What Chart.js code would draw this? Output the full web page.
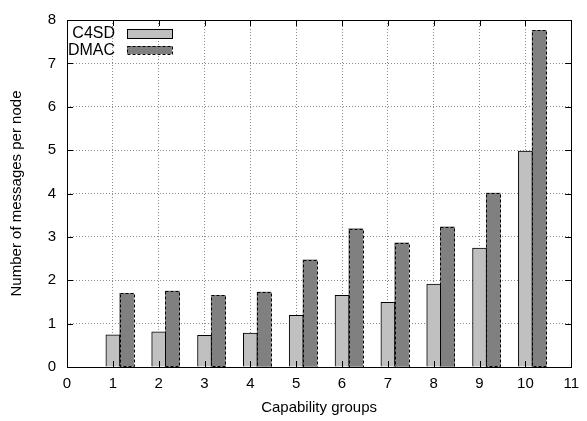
<!DOCTYPE html>
<html>
<head>
<meta charset="utf-8">
<script src="https://cdn.jsdelivr.net/npm/chart.js@4"></script>
<style>
  html, body { margin: 0; background: #fff; }
</style>
</head>
<body>
<canvas id="grafico" width="587" height="421"></canvas>
<script>
const grupos = [1, 2, 3, 4, 5, 6, 7, 8, 9, 10];
const c4sd = [0.74, 0.81, 0.73, 0.78, 1.19, 1.65, 1.49, 1.91, 2.74, 4.98];
const dmac = [1.70, 1.75, 1.65, 1.73, 2.47, 3.19, 2.86, 3.23, 4.01, 7.76];
const xTicks = [0, 1, 2, 3, 4, 5, 6, 7, 8, 9, 10, 11];
const yTicks = [0, 1, 2, 3, 4, 5, 6, 7, 8];

const fonte = '"Liberation Sans", Arial, sans-serif';
const deslocDmac = 0.3; // DMAC bar sits just right of the C4SD bar

// frame, inward ticks, dashed borders for DMAC, legend inside the plot
const moldura = {
  id: 'moldura',
  afterDatasetsDraw(chart) {
    const c = chart.ctx;
    const meta = chart.getDatasetMeta(1);
    c.save();
    c.strokeStyle = '#000';
    c.lineWidth = 1;
    c.setLineDash([3, 2]);
    meta.data.forEach(b => {
      const w = b.width;
      c.strokeRect(Math.round(b.x - w / 2) + 0.5, Math.round(b.y) + 0.5, Math.round(w), Math.round(b.base - b.y));
    });
    c.restore();
  },
  afterDraw(chart) {
    const c = chart.ctx;
    const a = chart.chartArea;
    const sx = chart.scales.x, sy = chart.scales.y;
    c.save();
    c.strokeStyle = '#000';
    c.lineWidth = 1;
    c.setLineDash([]);
    c.strokeRect(Math.round(a.left) + 0.5, Math.round(a.top) + 0.5, Math.round(a.right - a.left), Math.round(a.bottom - a.top));
    c.beginPath();
    xTicks.forEach(t => {
      const px = Math.round(sx.getPixelForValue(t)) + 0.5;
      c.moveTo(px, a.bottom); c.lineTo(px, a.bottom - 6);
      c.moveTo(px, a.top); c.lineTo(px, a.top + 6);
    });
    yTicks.forEach(t => {
      const py = Math.round(sy.getPixelForValue(t)) + 0.5;
      c.moveTo(a.left, py); c.lineTo(a.left + 6, py);
      c.moveTo(a.right, py); c.lineTo(a.right - 6, py);
    });
    c.stroke();

    // legend
    c.font = '16px ' + fonte;
    c.fillStyle = '#000';
    c.textAlign = 'right';
    c.textBaseline = 'middle';
    const tx = a.left + 48;
    const bx = a.left + 60;
    c.fillText('C4SD', tx, a.top + 14);
    c.fillText('DMAC', tx, a.top + 31);
    c.fillStyle = '#c0c0c0';
    c.fillRect(bx, a.top + 9, 45, 9);
    c.strokeRect(bx + 0.5, a.top + 9.5, 45, 9);
    c.fillStyle = '#808080';
    c.fillRect(bx, a.top + 26, 45, 8);
    c.setLineDash([3, 2]);
    c.strokeRect(bx + 0.5, a.top + 26.5, 45, 8);
    c.restore();
  }
};

const ctx = document.getElementById('grafico');

new Chart(ctx, {
  type: 'bar',
  data: {
    datasets: [{
      label: 'C4SD',
      data: grupos.map((g, i) => ({ x: g, y: c4sd[i] })),
      backgroundColor: '#c0c0c0',
      borderColor: '#000',
      borderWidth: 1
    }, {
      label: 'DMAC',
      data: grupos.map((g, i) => ({ x: g + deslocDmac, y: dmac[i] })),
      backgroundColor: '#808080',
      borderWidth: 0
    }]
  },
  options: {
    responsive: false,
    animation: false,
    grouped: false,
    barThickness: 14,
    layout: { padding: { top: 14, right: 14, left: 0, bottom: 0 } },
    plugins: {
      legend: { display: false },
      tooltip: { enabled: false }
    },
    scales: {
      x: {
        type: 'linear',
        min: 0,
        max: 11,
        offset: false,
        afterFit: s => { s.height = 54; },
        afterBuildTicks: s => { s.ticks = xTicks.map(v => ({ value: v })); },
        ticks: { color: '#000', font: { family: fonte, size: 15 }, padding: 8, maxRotation: 0 },
        grid: { offset: false, color: '#8a8a8a', lineWidth: 1, drawTicks: false },
        border: { display: false, dash: [1, 2] },
        title: { display: true, text: 'Capability groups', color: '#000', font: { family: fonte, size: 15 }, padding: { top: 0, bottom: 4 } }
      },
      y: {
        min: 0,
        max: 8,
        afterFit: s => { s.width = 67; },
        afterBuildTicks: s => { s.ticks = yTicks.map(v => ({ value: v })); },
        ticks: { color: '#000', font: { family: fonte, size: 15 }, padding: 11 },
        grid: { color: '#8a8a8a', lineWidth: 1, drawTicks: false },
        border: { display: false, dash: [1, 2] },
        title: { display: true, text: 'Number of messages per node', color: '#000', font: { family: fonte, size: 15 }, padding: { top: 8, bottom: 0 } }
      }
    }
  },
  plugins: [moldura]
});
</script>
</body>
</html>
